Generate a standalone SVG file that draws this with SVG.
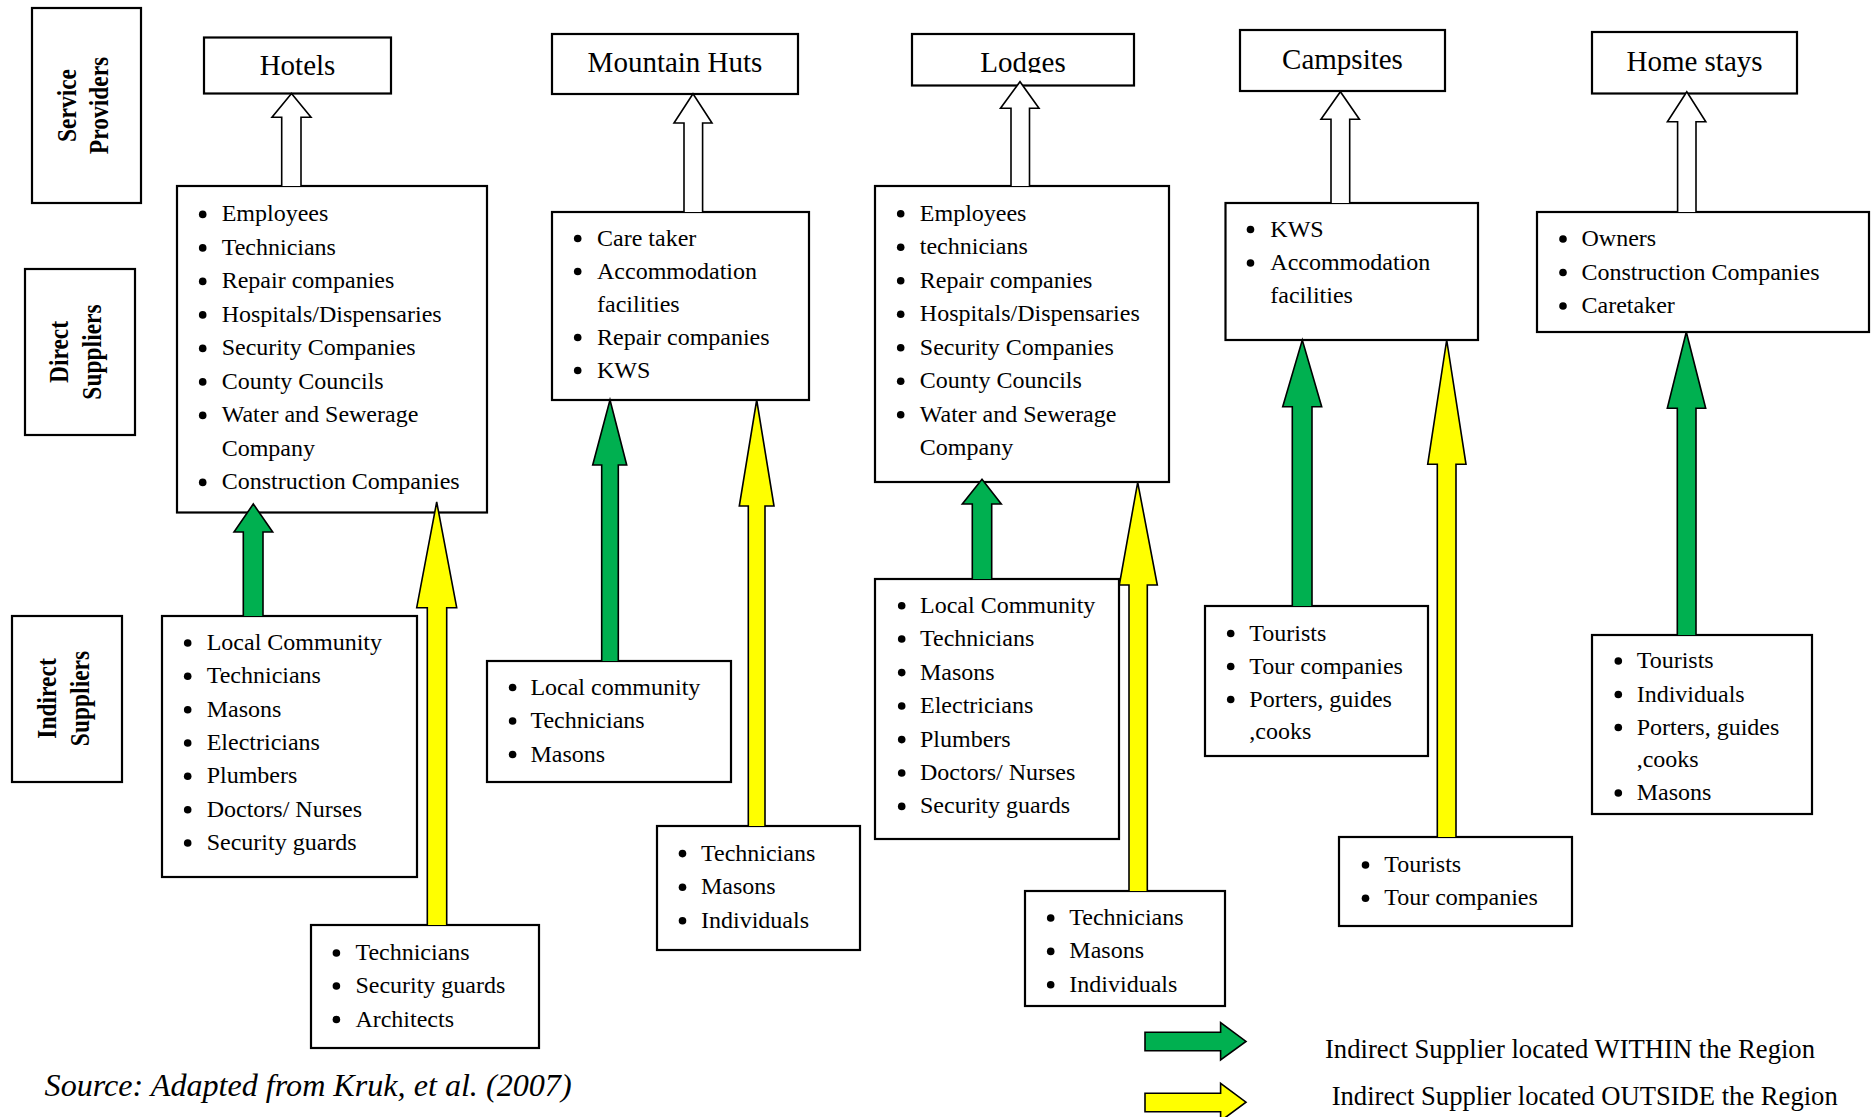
<svg xmlns="http://www.w3.org/2000/svg" width="1871" height="1117" viewBox="0 0 1871 1117">
<style>
.bg{fill:#fff}
.box{fill:#fff;stroke:#000;stroke-width:2.2}
.t{font-family:"Liberation Serif","Times New Roman",serif;font-size:24px;fill:#000}
.title{font-size:29px;text-anchor:middle}
.lbl{font-weight:bold;font-size:23.5px;text-anchor:middle}
.bul{fill:#000}
.aw{fill:#fff;stroke:#000;stroke-width:1.6;stroke-linejoin:miter}
.ag{fill:#00B050;stroke:#000;stroke-width:1.6;stroke-linejoin:miter}
.ay{fill:#FFFF00;stroke:#000;stroke-width:1.6;stroke-linejoin:miter}
.leg{font-size:28px}
.src{font-size:31px;font-style:italic}
</style>
<defs>
<clipPath id="clipLodges"><rect x="900" y="30" width="250" height="43"/></clipPath>
</defs>
<rect class="bg" x="0" y="0" width="1871" height="1117"/>

<!-- Level labels -->
<g id="label-service-providers">
<rect class="box" x="32" y="8" width="109" height="195"/>
<text class="t lbl" transform="translate(75.7,105.5) rotate(-90) scale(1,1.13)">Service</text>
<text class="t lbl" transform="translate(108.3,105.5) rotate(-90) scale(1,1.13)">Providers</text>
</g>
<g id="label-direct-suppliers">
<rect class="box" x="25" y="269" width="110" height="166"/>
<text class="t lbl" transform="translate(68.3,352) rotate(-90) scale(1,1.13)">Direct</text>
<text class="t lbl" transform="translate(100.9,352) rotate(-90) scale(1,1.13)">Suppliers</text>
</g>
<g id="label-indirect-suppliers">
<rect class="box" x="12" y="616" width="110" height="166"/>
<text class="t lbl" transform="translate(56,698.5) rotate(-90) scale(1,1.13)">Indirect</text>
<text class="t lbl" transform="translate(88.6,698.5) rotate(-90) scale(1,1.13)">Suppliers</text>
</g>

<!-- Service providers -->
<g id="sp-hotels">
<rect class="box" x="204" y="37.5" width="187" height="56"/>
<text class="t title" x="297.5" y="75">Hotels</text>
</g>
<g id="sp-mountain-huts">
<rect class="box" x="552" y="34" width="246" height="60"/>
<text class="t title" x="675" y="71.7">Mountain Huts</text>
</g>
<g id="sp-lodges">
<rect class="box" x="912" y="34" width="222" height="51.5"/>
<text class="t title" x="1023" y="71.7" clip-path="url(#clipLodges)">Lodges</text>
</g>
<g id="sp-campsites">
<rect class="box" x="1240" y="30" width="205" height="61"/>
<text class="t title" x="1342.5" y="69">Campsites</text>
</g>
<g id="sp-home-stays">
<rect class="box" x="1592" y="32" width="205" height="61.5"/>
<text class="t title" x="1694.5" y="71">Home stays</text>
</g>

<!-- Direct suppliers -->
<g id="ds-hotels">
<rect class="box" x="177" y="186" width="310" height="326.5"/>
<g class="bul">
<circle cx="202.7" cy="214.4" r="3.8"/><circle cx="202.7" cy="247.9" r="3.8"/><circle cx="202.7" cy="281.4" r="3.8"/><circle cx="202.7" cy="314.9" r="3.8"/><circle cx="202.7" cy="348.4" r="3.8"/><circle cx="202.7" cy="381.9" r="3.8"/><circle cx="202.7" cy="415.4" r="3.8"/><circle cx="202.7" cy="482.4" r="3.8"/>
</g>
<text class="t" x="221.7" y="221.4">Employees</text>
<text class="t" x="221.7" y="254.9">Technicians</text>
<text class="t" x="221.7" y="288.4">Repair companies</text>
<text class="t" x="221.7" y="321.9">Hospitals/Dispensaries</text>
<text class="t" x="221.7" y="355.4">Security Companies</text>
<text class="t" x="221.7" y="388.9">County Councils</text>
<text class="t" x="221.7" y="422.4">Water and Sewerage</text>
<text class="t" x="221.7" y="455.9">Company</text>
<text class="t" x="221.7" y="489.4">Construction Companies</text>
</g>
<g id="ds-mountain-huts">
<rect class="box" x="552" y="212" width="257" height="188"/>
<g class="bul">
<circle cx="577.7" cy="238.5" r="3.8"/><circle cx="577.7" cy="271.5" r="3.8"/><circle cx="577.7" cy="337.5" r="3.8"/><circle cx="577.7" cy="370.5" r="3.8"/>
</g>
<text class="t" x="597" y="245.5">Care taker</text>
<text class="t" x="597" y="278.5">Accommodation</text>
<text class="t" x="597" y="311.5">facilities</text>
<text class="t" x="597" y="344.5">Repair companies</text>
<text class="t" x="597" y="377.5">KWS</text>
</g>
<g id="ds-lodges">
<rect class="box" x="875" y="186" width="294" height="296"/>
<g class="bul">
<circle cx="900.7" cy="213.7" r="3.8"/><circle cx="900.7" cy="247.2" r="3.8"/><circle cx="900.7" cy="280.7" r="3.8"/><circle cx="900.7" cy="314.2" r="3.8"/><circle cx="900.7" cy="347.7" r="3.8"/><circle cx="900.7" cy="381.2" r="3.8"/><circle cx="900.7" cy="414.7" r="3.8"/>
</g>
<text class="t" x="919.8" y="220.7">Employees</text>
<text class="t" x="919.8" y="254.2">technicians</text>
<text class="t" x="919.8" y="287.7">Repair companies</text>
<text class="t" x="919.8" y="321.2">Hospitals/Dispensaries</text>
<text class="t" x="919.8" y="354.7">Security Companies</text>
<text class="t" x="919.8" y="388.2">County Councils</text>
<text class="t" x="919.8" y="421.7">Water and Sewerage</text>
<text class="t" x="919.8" y="455.2">Company</text>
</g>
<g id="ds-campsites">
<rect class="box" x="1225.5" y="203" width="252.5" height="137"/>
<g class="bul">
<circle cx="1250.5" cy="229.5" r="3.8"/><circle cx="1250.5" cy="263" r="3.8"/>
</g>
<text class="t" x="1270.3" y="236.5">KWS</text>
<text class="t" x="1270.3" y="270">Accommodation</text>
<text class="t" x="1270.3" y="302.5">facilities</text>
</g>
<g id="ds-home-stays">
<rect class="box" x="1537" y="212" width="332" height="120"/>
<g class="bul">
<circle cx="1563" cy="239" r="3.8"/><circle cx="1563" cy="272.5" r="3.8"/><circle cx="1563" cy="306" r="3.8"/>
</g>
<text class="t" x="1581.5" y="246">Owners</text>
<text class="t" x="1581.5" y="279.5">Construction Companies</text>
<text class="t" x="1581.5" y="313">Caretaker</text>
</g>

<!-- Indirect suppliers -->
<g id="is-hotels-within">
<rect class="box" x="162" y="616" width="255" height="261"/>
<g class="bul">
<circle cx="187.7" cy="643" r="3.8"/><circle cx="187.7" cy="676.3" r="3.8"/><circle cx="187.7" cy="709.7" r="3.8"/><circle cx="187.7" cy="743" r="3.8"/><circle cx="187.7" cy="776.3" r="3.8"/><circle cx="187.7" cy="809.7" r="3.8"/><circle cx="187.7" cy="843" r="3.8"/>
</g>
<text class="t" x="206.7" y="650">Local Community</text>
<text class="t" x="206.7" y="683.3">Technicians</text>
<text class="t" x="206.7" y="716.7">Masons</text>
<text class="t" x="206.7" y="750">Electricians</text>
<text class="t" x="206.7" y="783.3">Plumbers</text>
<text class="t" x="206.7" y="816.7">Doctors/ Nurses</text>
<text class="t" x="206.7" y="850">Security guards</text>
</g>
<g id="is-hotels-outside">
<rect class="box" x="311" y="925" width="228" height="123"/>
<g class="bul">
<circle cx="336.4" cy="953" r="3.8"/><circle cx="336.4" cy="986" r="3.8"/><circle cx="336.4" cy="1019.5" r="3.8"/>
</g>
<text class="t" x="355.4" y="960">Technicians</text>
<text class="t" x="355.4" y="993">Security guards</text>
<text class="t" x="355.4" y="1026.5">Architects</text>
</g>
<g id="is-mountain-huts-within">
<rect class="box" x="487" y="661" width="244" height="121"/>
<g class="bul">
<circle cx="512.6" cy="687.5" r="3.8"/><circle cx="512.6" cy="721" r="3.8"/><circle cx="512.6" cy="754.5" r="3.8"/>
</g>
<text class="t" x="530.4" y="694.5">Local community</text>
<text class="t" x="530.4" y="728">Technicians</text>
<text class="t" x="530.4" y="761.5">Masons</text>
</g>
<g id="is-mountain-huts-outside">
<rect class="box" x="657" y="826" width="203" height="124"/>
<g class="bul">
<circle cx="682.5" cy="853.6" r="3.8"/><circle cx="682.5" cy="887.2" r="3.8"/><circle cx="682.5" cy="920.8" r="3.8"/>
</g>
<text class="t" x="701" y="860.6">Technicians</text>
<text class="t" x="701" y="894.2">Masons</text>
<text class="t" x="701" y="927.8">Individuals</text>
</g>
<g id="is-lodges-within">
<rect class="box" x="875" y="579" width="244" height="260"/>
<g class="bul">
<circle cx="901.7" cy="605.7" r="3.8"/><circle cx="901.7" cy="639" r="3.8"/><circle cx="901.7" cy="672.6" r="3.8"/><circle cx="901.7" cy="706" r="3.8"/><circle cx="901.7" cy="739.6" r="3.8"/><circle cx="901.7" cy="773" r="3.8"/><circle cx="901.7" cy="806.4" r="3.8"/>
</g>
<text class="t" x="920" y="612.7">Local Community</text>
<text class="t" x="920" y="646">Technicians</text>
<text class="t" x="920" y="679.6">Masons</text>
<text class="t" x="920" y="713">Electricians</text>
<text class="t" x="920" y="746.6">Plumbers</text>
<text class="t" x="920" y="780">Doctors/ Nurses</text>
<text class="t" x="920" y="813.4">Security guards</text>
</g>
<g id="is-lodges-outside">
<rect class="box" x="1025" y="891" width="200" height="115"/>
<g class="bul">
<circle cx="1050.7" cy="918" r="3.8"/><circle cx="1050.7" cy="951.4" r="3.8"/><circle cx="1050.7" cy="984.8" r="3.8"/>
</g>
<text class="t" x="1069.3" y="925">Technicians</text>
<text class="t" x="1069.3" y="958.4">Masons</text>
<text class="t" x="1069.3" y="991.8">Individuals</text>
</g>
<g id="is-campsites-within">
<rect class="box" x="1205" y="606" width="223" height="150"/>
<g class="bul">
<circle cx="1230.7" cy="633.5" r="3.8"/><circle cx="1230.7" cy="666.5" r="3.8"/><circle cx="1230.7" cy="699.5" r="3.8"/>
</g>
<text class="t" x="1249.3" y="640.5">Tourists</text>
<text class="t" x="1249.3" y="673.5">Tour companies</text>
<text class="t" x="1249.3" y="706.5">Porters, guides</text>
<text class="t" x="1249.3" y="739">,cooks</text>
</g>
<g id="is-campsites-outside">
<rect class="box" x="1339" y="837" width="233" height="89"/>
<g class="bul">
<circle cx="1365.5" cy="865" r="3.8"/><circle cx="1365.5" cy="898.3" r="3.8"/>
</g>
<text class="t" x="1384.2" y="872">Tourists</text>
<text class="t" x="1384.2" y="905.3">Tour companies</text>
</g>
<g id="is-home-stays-within">
<rect class="box" x="1592" y="635" width="220" height="179"/>
<g class="bul">
<circle cx="1618.3" cy="661" r="3.8"/><circle cx="1618.3" cy="694.5" r="3.8"/><circle cx="1618.3" cy="727.5" r="3.8"/><circle cx="1618.3" cy="793" r="3.8"/>
</g>
<text class="t" x="1636.7" y="668">Tourists</text>
<text class="t" x="1636.7" y="701.5">Individuals</text>
<text class="t" x="1636.7" y="734.5">Porters, guides</text>
<text class="t" x="1636.7" y="767">,cooks</text>
<text class="t" x="1636.7" y="800">Masons</text>
</g>

<!-- Connectors -->
<g id="connectors">
<path class="aw" d="M281.7,186 L281.7,117.3 L272,117.3 L291.5,93.6 L311,117.3 L301,117.3 L301,186"/>
<path class="aw" d="M684,212 L684,123 L674,123 L693,93.7 L712,123 L702.6,123 L702.6,212"/>
<path class="aw" d="M1011,186 L1011,108.3 L1000.5,108.3 L1020,81.7 L1039,108.3 L1029.5,108.3 L1029.5,186"/>
<path class="aw" d="M1331,203 L1331,119.3 L1321,119.3 L1340.4,91.7 L1359.4,119.3 L1349.7,119.3 L1349.7,203"/>
<path class="aw" d="M1677.6,212 L1677.6,121.7 L1667.4,121.7 L1686.8,91.7 L1705.8,121.7 L1696,121.7 L1696,212"/>

<path class="ag" d="M243.3,616 L243.3,532 L234,532 L253.3,504 L272.7,532 L263,532 L263,616"/>
<path class="ag" d="M601.7,661 L601.7,465 L592.7,465 L610,400 L626.7,465 L618.3,465 L618.3,661"/>
<path class="ag" d="M972.3,579 L972.3,504 L962.3,504 L982,479.3 L1001.3,504 L991.7,504 L991.7,579"/>
<path class="ag" d="M1292.3,606 L1292.3,406.7 L1282.7,406.7 L1302.3,340 L1321.7,406.7 L1312,406.7 L1312,606"/>
<path class="ag" d="M1677.3,635 L1677.3,408.3 L1667.3,408.3 L1686.3,332 L1705.7,408.3 L1696,408.3 L1696,635"/>

<path class="ay" d="M427.3,925 L427.3,607.7 L416.7,607.7 L436.7,502 L456.7,607.7 L446.7,607.7 L446.7,925"/>
<path class="ay" d="M748.3,826 L748.3,506 L739.3,506 L756.7,400 L774,506 L765,506 L765,826"/>
<path class="ay" d="M1129,891 L1129,585 L1119.3,585 L1137.7,482.3 L1157.3,585 L1147.3,585 L1147.3,891"/>
<path class="ay" d="M1437.3,837 L1437.3,464.3 L1427.7,464.3 L1446.7,340 L1466,464.3 L1456,464.3 L1456,837"/>
</g>

<!-- Legend -->
<g id="legend">
<polygon class="ag" points="1145,1032.3 1220.6,1032.3 1220.6,1022.7 1246,1041.4 1220.6,1060 1220.6,1050.7 1145,1050.7"/>
<text class="t leg" x="1325" y="1058" textLength="490" lengthAdjust="spacingAndGlyphs">Indirect Supplier located WITHIN the Region</text>
<polygon class="ay" points="1145,1093.3 1220.6,1093.3 1220.6,1083.3 1246,1102.2 1220.6,1121 1220.6,1111.7 1145,1111.7"/>
<text class="t leg" x="1331.7" y="1105" textLength="506" lengthAdjust="spacingAndGlyphs">Indirect Supplier located OUTSIDE the Region</text>
</g>

<g id="source">
<text class="t src" x="44.6" y="1096" textLength="527" lengthAdjust="spacingAndGlyphs">Source: Adapted from Kruk, et al. (2007)</text>
</g>
</svg>
